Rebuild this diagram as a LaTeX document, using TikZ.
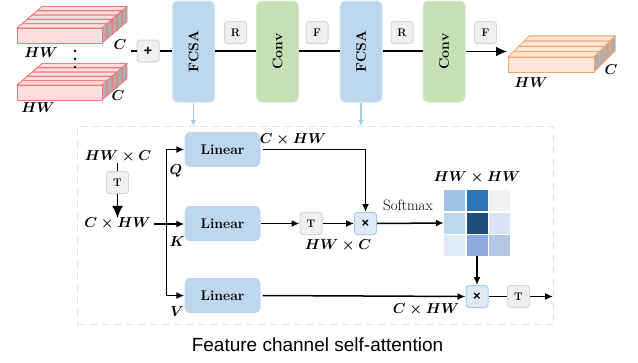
\documentclass[tikz,border=0pt]{standalone}
\usepackage{fontspec}
\newfontfamily\capfont{Liberation Sans}
\usetikzlibrary{arrows.meta,calc}

\definecolor{bluefill}{HTML}{BDD7EE}
\definecolor{blueline}{HTML}{D3E4F4}
\definecolor{greenfill}{HTML}{C5E0B4}
\definecolor{greenline}{HTML}{D6EACB}
\definecolor{tagfill}{HTML}{F0F0F0}
\definecolor{tagline}{HTML}{D6D6D6}
\definecolor{mulfill}{HTML}{DEEBF7}
\definecolor{mulline}{HTML}{A9CBEA}
\definecolor{dashline}{HTML}{D5E3F3}
\definecolor{lightarrow}{HTML}{A9CBEA}
\definecolor{redfront}{HTML}{FCDEDE}
\definecolor{rededge}{HTML}{F4777A}
\definecolor{orangefront}{HTML}{FCE6D8}
\definecolor{orangeedge}{HTML}{F5A46C}
\definecolor{slabside}{HTML}{AEAEAE}
\definecolor{cA}{HTML}{9DC3E6}
\definecolor{cB}{HTML}{2E75B6}
\definecolor{cC}{HTML}{F2F2F2}
\definecolor{cD}{HTML}{BDD7EE}
\definecolor{cE}{HTML}{1F4E79}
\definecolor{cF}{HTML}{DAE3F3}
\definecolor{cG}{HTML}{DEEBF7}
\definecolor{cH}{HTML}{8FAADC}
\definecolor{cI}{HTML}{B4C7E7}

% one thin feature slab: x, y (top-left of front face), width, height, depth dx, dy, face colour, edge colour
\newcommand\drawslab[8]{%
  \filldraw[fill=#7,draw=#8,line width=0.9,line join=round]
    (#1,#2) -- ++(#5,#6) -- ++(#3,0) -- (#1+#3,#2) -- cycle;
  \filldraw[fill=slabside,draw=#8,line width=0.9,line join=round]
    (#1+#3,#2) -- ++(#5,#6) -- ++(0,#4) -- (#1+#3,#2+#4) -- cycle;
  \filldraw[fill=#7,draw=#8,line width=0.9] (#1,#2) rectangle ++(#3,#4);
}

\tikzset{
  block/.style={rounded corners=5, minimum width=42, minimum height=101, inner sep=0,
    line width=1, font=\fontsize{14}{16}\selectfont\bfseries},
  fcsa/.style={block, fill=bluefill, draw=blueline},
  conv/.style={block, fill=greenfill, draw=greenline},
  tag/.style={rounded corners=3, fill=tagfill, draw=tagline, line width=1,
    minimum size=22, inner sep=0, font=\fontsize{11}{11}\selectfont\bfseries},
  mul/.style={rounded corners=3, fill=mulfill, draw=mulline, line width=1,
    minimum size=22, inner sep=0, font=\capfont\fontsize{13}{13}\selectfont\bfseries},
  lin/.style={rounded corners=6, fill=bluefill, minimum width=76, minimum height=35,
    inner sep=0, font=\fontsize{14}{16}\selectfont\bfseries},
  dim/.style={inner sep=0, font=\fontsize{13.5}{15}\selectfont\boldmath},
  cell/.style={minimum size=21, inner sep=0},
  mainline/.style={line width=1.8},
  mainarr/.style={line width=1.8, -{Latex[length=11,width=10]}},
  ln/.style={line width=1.5},
  arr/.style={line width=1.5, -{Latex[length=8,width=7]}},
  bigarr/.style={line width=1.5, -{Latex[length=12,width=11]}},
  lbarr/.style={line width=1.2, draw=lightarrow, -{Latex[length=6,width=6]}},
  dashbox/.style={draw=dashline, line width=1.2, dash pattern=on 7 off 5,
    minimum width=476, minimum height=198, inner sep=0},
}

\begin{document}
\begin{tikzpicture}[x=1pt,y=-1pt]
\useasboundingbox (0,0) rectangle (638,362);

% ---- input feature stacks ----
\foreach \k in {4,3,2,1,0}{
  \drawslab{17+\k*5}{28-\k*4.3}{85}{15}{5}{-4.3}{redfront}{rededge}
}
\foreach \k in {4,3,2,1,0}{
  \drawslab{17+\k*5}{85-\k*4.3}{85}{15}{5}{-4.3}{redfront}{rededge}
}
\node[dim] (hw1) at (41,53) {$HW$};
\node[dim] (c1) at (120,45) {$C$};
\node[dim] (hw2) at (38,108) {$HW$};
\node[dim] (c2) at (118,96) {$C$};
\foreach \yy in {51,59,67} \fill (75,\yy) circle (1.3);

% ---- output feature stack ----
\foreach \k in {3,2,1,0}{
  \drawslab{508+\k*5.3}{57-\k*5.3}{86}{15}{5.3}{-5.3}{orangefront}{orangeedge}
}
\node[dim] (hw3) at (531,83) {$HW$};
\node[dim] (c3) at (611,70) {$C$};

% ---- main pipeline ----
\node[tag, font=\capfont\fontsize{14}{14}\selectfont\bfseries] (plus) at (148,51) {+};
\coordinate (inl) at (131,51);
\node[fcsa] (f1) at (193.5,51.5) {\rotatebox{90}{FCSA}};
\node[conv] (v1) at (277.5,51.5) {\rotatebox{90}{Conv}};
\node[fcsa] (f2) at (361,51.5) {\rotatebox{90}{FCSA}};
\node[conv] (v2) at (444,51.5) {\rotatebox{90}{Conv}};
\coordinate (outp) at (507,51.5);

\node[tag] (r1) at (235.5,32.5) {R};
\node[tag] (p1) at (317,32.5) {F};
\node[tag] (r2) at (402,32.5) {R};
\node[tag] (p2) at (485.5,32.5) {F};

\draw[mainline] (inl) -- (plus.west);
\draw[mainline] (plus.east) -- (f1.west |- plus.east);
\draw[mainline] (f1.east |- plus.east) -- (v1.west |- plus.east);
\draw[mainline] (v1.east |- plus.east) -- (f2.west |- plus.east);
\draw[mainline] (f2.east |- plus.east) -- (v2.west |- plus.east);
\draw[mainarr] (v2.east |- outp) -- (outp);

% ---- attention detail ----
\node[dashbox] (att) at (315.5,225.5) {};
\draw[lbarr] (f1.south) -- (f1.south |- att.north);
\draw[lbarr] (f2.south) -- (f2.south |- att.north);

\node[dim] (hwc) at (118,157) {$HW\times C$};
\node[tag] (t0) at (117.5,182.5) {T};
\node[dim] (chw) at (117.5,224) {$C\times HW$};
\draw[ln] (hwc.south -| t0.north) -- (t0.north);
\draw[bigarr] (t0.south) -- (chw.north -| t0.south);

\node[lin] (lq) at (222.5,149.5) {Linear};
\node[lin] (lk) at (222.5,223.5) {Linear};
\node[lin] (lv) at (222.5,295.5) {Linear};
\coordinate (sp) at (166.5,224);
\draw[arr] ([xshift=3]chw.east |- sp) -- (lk.west |- sp);
\draw[arr] (sp) |- (lq.west);
\draw[arr] (sp) |- (lv.west);
\node[dim] (lbq) at (176,171) {$Q$};
\node[dim] (lbk) at (177,242) {$K$};
\node[dim] (lbv) at (177,312) {$V$};

\node[tag] (t1) at (311,223.5) {T};
\node[mul] (m1) at (365.5,223.5) {×};
\draw[arr] ([xshift=2]lq.east) -| (m1.north);
\node[dim] (lqo) at (293,140) {$C\times HW$};
\draw[arr] (lk.east) -- (t1.west);
\draw[arr] (t1.east) -- (m1.west);
\node[dim] (lko) at (338,246) {$HW\times C$};

% attention map
\foreach \r/\cols in {1/{cA,cB,cC},2/{cD,cE,cF},3/{cG,cH,cI}}{
  \foreach \cc [count=\c] in \cols{
    \node[cell, fill=\cc] (m\r\c) at (454.5+\c*22.5-22.5, 200.5+\r*22.5-22.5) {};
  }
}
\node[dim] (lhh) at (477,178) {$HW\times HW$};
\draw[arr] (m1.east) -- (m21.west);
\node[font=\fontsize{15}{17}\selectfont, inner sep=0] (sm) at (408,205) {Softmax};

\node[mul] (m2) at (477,296.5) {×};
\node[tag] (t2) at (518.5,296.5) {T};
\coordinate (endp) at (553,296.5);
\draw[arr] (m32.south) -- (m2.north);
\draw[arr] ([xshift=2]lv.east) -- (m2.west);
\node[dim] (lvo) at (426,310) {$C\times HW$};
\draw[ln] (m2.east) -- (t2.west);
\draw[arr] (t2.east) -- (endp);

\node[font=\capfont\fontsize{19}{22}\selectfont, inner sep=0] (cap) at (317.5,345) {Feature channel self-attention};
\end{tikzpicture}
\end{document}
